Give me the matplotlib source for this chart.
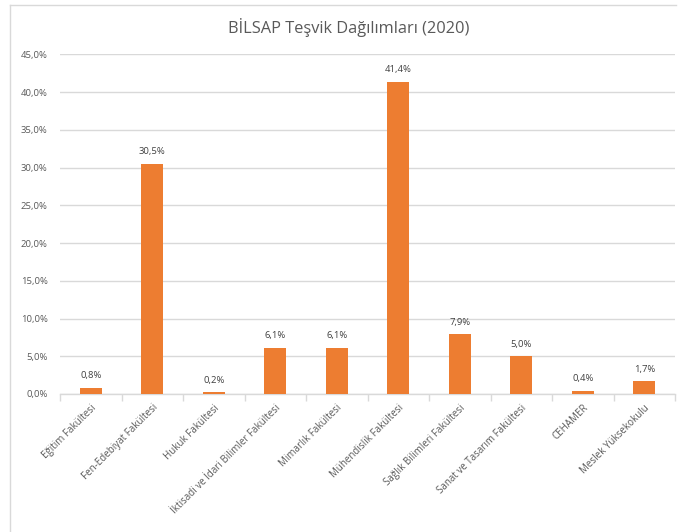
import matplotlib.pyplot as plt
from matplotlib.lines import Line2D
from matplotlib.ticker import FuncFormatter, MultipleLocator

categories = ["Eğitim Fakültesi", "Fen-Edebiyat Fakültesi", "Hukuk Fakültesi",
              "İktisadi ve İdari Bilimler Fakültesi", "Mimarlık Fakültesi",
              "Mühendislik Fakültesi", "Sağlık Bilimleri Fakültesi",
              "Sanat ve Tasarım Fakültesi", "CEHAMER", "Meslek Yüksekokulu"]
values = [0.8, 30.5, 0.2, 6.1, 6.1, 41.4, 7.9, 5.0, 0.4, 1.7]

plt.rcParams['font.family'] = ['Open Sans', 'DejaVu Sans']

fig = plt.figure(figsize=(6.78, 5.32), dpi=100)
ax = fig.add_axes([60 / 678, 1 - 394 / 532, 615 / 678, (394 - 54.5) / 532])

x = list(range(len(categories)))
ax.bar(x, values, width=0.36, color="#ED7D31", zorder=3)
for xi, v in zip(x, values):
    ax.text(xi, v + 1.0, f"{v:.1f}%".replace(".", ","), ha="center", va="bottom",
            fontsize=6.8, color="#404040")

ax.set_xlim(-0.5, len(categories) - 0.5)
ax.set_ylim(0, 45)
ax.yaxis.set_major_locator(MultipleLocator(5))
ax.yaxis.set_major_formatter(FuncFormatter(lambda v, p: f"{v:.1f}%".replace(".", ",")))
ax.grid(axis="y", color="#D9D9D9", linewidth=1, zorder=0)

for s in ["top", "right", "left"]:
    ax.spines[s].set_visible(False)
ax.spines["bottom"].set_color("#D9D9D9")
ax.spines["bottom"].set_linewidth(1)

ax.set_xticks(x)
ax.set_xticklabels(categories, rotation=45, ha="right", rotation_mode="anchor",
                   fontsize=7, color="#595959")
ax.tick_params(axis="x", length=0, pad=6)
ax.set_xticks([i - 0.5 for i in range(len(categories) + 1)], minor=True)
ax.tick_params(axis="x", which="minor", length=5, color="#D9D9D9", width=1)
ax.tick_params(axis="y", length=0, labelsize=6.8, labelcolor="#595959", pad=9)

fig.text(349 / 678, 1 - 28 / 532, "BİLSAP Teşvik Dağılımları (2020)", ha="center",
         va="center", fontsize=11.8, color="#595959")

# chart area border (left and top edges visible in the reference)
fig.add_artist(Line2D([10 / 678, 10 / 678], [0, 1 - 5 / 532], transform=fig.transFigure,
                      color="#D9D9D9", linewidth=1))
fig.add_artist(Line2D([10 / 678, 676 / 678], [1 - 5 / 532, 1 - 5 / 532],
                      transform=fig.transFigure, color="#D9D9D9", linewidth=1))

fig.savefig("out.png", dpi=100)
